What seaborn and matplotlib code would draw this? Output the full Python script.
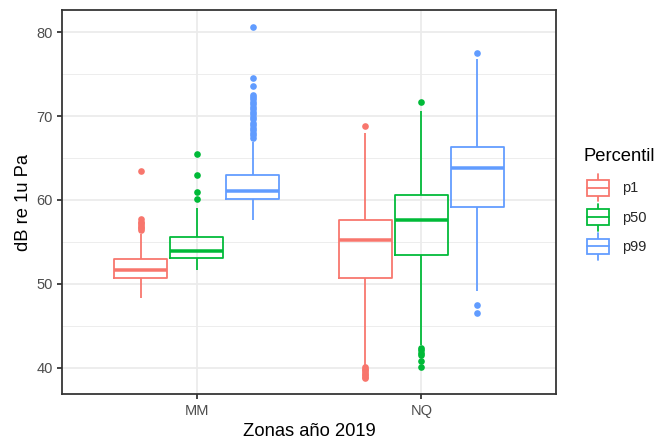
import numpy as np
import pandas as pd
import matplotlib
matplotlib.use("Agg")
import matplotlib.pyplot as plt
from matplotlib.legend_handler import HandlerBase
from matplotlib.lines import Line2D
from matplotlib.patches import Rectangle
from matplotlib.ticker import MultipleLocator
import seaborn as sns

# Box summaries, order: MM p1, MM p50, MM p99, NQ p1, NQ p50, NQ p99
zones = ["MM", "MM", "MM", "NQ", "NQ", "NQ"]
percentiles = ["p1", "p50", "p99", "p1", "p50", "p99"]
whisker_low = [48.3, 51.6, 57.6, 40.3, 43.0, 49.2]
lower_quartile = [50.7, 53.1, 60.1, 50.7, 53.4, 59.2]
median = [51.6, 53.95, 61.1, 55.2, 57.6, 63.85]
upper_quartile = [52.95, 55.55, 62.95, 57.65, 60.55, 66.35]
whisker_high = [56.0, 59.1, 66.9, 68.0, 70.6, 76.8]
outliers_low = [
    [],
    [],
    [],
    [40.1, 39.9, 39.7, 39.5, 39.3, 39.1, 38.9, 38.75],
    [42.7, 42.4, 42.1, 41.8, 41.5, 40.85, 40.05],
    [47.5, 46.55],
]
outliers_high = [
    [56.4, 56.6, 56.8, 57.0, 57.2, 57.4, 57.7, 63.45],
    [60.1, 60.9, 63.0, 65.45],
    [67.4, 67.7, 68.0, 68.3, 68.6, 68.9, 69.2, 69.6, 69.9, 70.2, 70.5,
     70.8, 71.1, 71.4, 71.7, 72.0, 72.3, 72.5, 73.6, 74.6, 80.65],
    [68.8],
    [71.65],
    [77.55],
]

zone_order = ["MM", "NQ"]
hue_order = ["p1", "p50", "p99"]
palette = {"p1": "#F8766D", "p50": "#00BA38", "p99": "#619CFF"}


def box_sample(lo, q1, med, q3, hi, out_lo, out_hi):
    """Values whose quartiles, whiskers and outliers reproduce one box."""
    n_side = max(len(out_lo), len(out_hi)) + 1
    low = list(out_lo) + [lo] * (n_side - len(out_lo))
    high = [hi] * (n_side - len(out_hi)) + list(out_hi)
    k = n_side + 1
    return low + [q1] * k + [med] + [q3] * k + high


rows = []
for i in range(len(zones)):
    vals = box_sample(whisker_low[i], lower_quartile[i], median[i],
                      upper_quartile[i], whisker_high[i],
                      outliers_low[i], outliers_high[i])
    rows += [(zones[i], percentiles[i], v) for v in vals]
df = pd.DataFrame(rows, columns=["zona", "percentil", "db"])

sns.set_theme(style="white")
plt.rcParams["font.family"] = ["Liberation Sans", "DejaVu Sans"]

W, H, dpi = 654, 440, 120
fig = plt.figure(figsize=(W / dpi, H / dpi), dpi=dpi)
ax = fig.add_axes([62 / W, 1 - 394 / H, (556 - 62) / W, (394 - 10.3) / H])

lw = 1.07
sns.boxplot(
    data=df, x="zona", y="db", hue="percentil",
    order=zone_order, hue_order=hue_order, palette=palette,
    fill=False, width=0.75, gap=0.06, linewidth=lw, whis=1.5,
    showcaps=False, legend=False,
    medianprops=dict(linewidth=2.1),
    flierprops=dict(marker="o", markersize=4.0, markeredgewidth=0),
    ax=ax,
)

# solid outlier dots in the box colour
for line in ax.lines:
    if line.get_marker() == "o":
        c = line.get_markeredgecolor()
        if isinstance(c, str) and c == "none":
            c = line.get_color()
        line.set_markerfacecolor(c)
        line.set_markeredgecolor(c)

ax.set_xlim(-0.6, 1.6)
ax.set_ylim(36.86, 82.62)
ax.yaxis.set_major_locator(MultipleLocator(10))
ax.yaxis.set_minor_locator(MultipleLocator(5))

ax.set_axisbelow(True)
ax.grid(True, which="major", axis="both", color="#EBEBEB", linewidth=lw)
ax.grid(True, which="minor", axis="y", color="#EBEBEB", linewidth=lw * 0.5)

for s in ax.spines.values():
    s.set_visible(True)
    s.set_color("#333333")
    s.set_linewidth(lw)

ax.tick_params(axis="both", which="major", length=2.75, width=lw,
               color="#333333", labelcolor="#4D4D4D", labelsize=8.8,
               left=True, bottom=True)
ax.tick_params(axis="x", which="major", pad=3.0)
ax.tick_params(axis="y", which="major", pad=2.6)
ax.tick_params(axis="y", which="minor", length=0)

ax.set_xlabel("Zonas año 2019", fontsize=11, color="black", labelpad=3.0)
ax.set_ylabel("dB re 1u Pa", fontsize=11, color="black", labelpad=3)


class BoxKey(HandlerBase):
    def create_artists(self, legend, orig_handle, xdescent, ydescent,
                       width, height, fontsize, trans):
        color = orig_handle.get_edgecolor()
        cx = -xdescent + width / 2
        y0 = -ydescent
        bw = width * 0.95
        bh = height * 0.59
        by = y0 + (height - bh) / 2
        artists = [
            Line2D([cx, cx], [y0, by], color=color, lw=lw),
            Line2D([cx, cx], [by + bh, y0 + height], color=color, lw=lw),
            Rectangle((cx - bw / 2, by), bw, bh, facecolor="white",
                      edgecolor=color, lw=lw),
            Line2D([cx - bw / 2, cx + bw / 2], [by + bh / 2] * 2,
                   color=color, lw=lw),
        ]
        for a in artists:
            a.set_transform(trans)
        return artists


fig.text(583.3 / W, 1 - 161 / H, "Percentil", fontsize=11, color="black",
         ha="left", va="baseline")

handles = [Rectangle((0, 0), 1, 1, facecolor="white", edgecolor=palette[h])
           for h in hue_order]
leg = fig.legend(
    handles, hue_order,
    handler_map={Rectangle: BoxKey()},
    loc="upper left", bbox_to_anchor=(586.5 / W, 1 - 174.3 / H),
    frameon=False, fontsize=8.8,
    handlelength=1.6, handleheight=2.455, handletextpad=0.82,
    labelspacing=0.16, borderpad=0, borderaxespad=0,
)

fig.savefig("out.png", dpi=dpi)
